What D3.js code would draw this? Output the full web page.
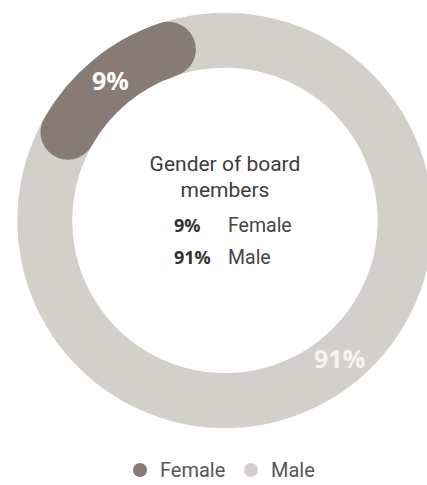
<!DOCTYPE html>
<html>
<head>
<meta charset="utf-8">
<script src="https://cdn.jsdelivr.net/npm/d3@7"></script>
<style>
  html, body { margin: 0; padding: 0; background: #ffffff; overflow: hidden; }
  svg { display: block; }
</style>
</head>
<body>
<div id="chart"></div>
<script>
// ---- data ----
const categories = ["Female", "Male"];
const values = [9, 91];
const valueLabels = ["9%", "91%"];
const title = ["Gender of board", "members"];

// ---- style / layout ----
const W = 427, H = 485;
const cx = 225, cy = 220.4;
const outerR = 207.7, innerR = 152.7;
const colors = ["#877b74", "#d3d0cc"];
const startDeg = -55.7;          // where the first slice starts (from 12 o'clock)
const capExtend = 0.24;          // visual extension (rad) of the rounded highlight caps

const svg = d3.select("#chart").append("svg")
  .attr("width", W).attr("height", H);

const color = d3.scaleOrdinal().domain(categories).range(colors);

const data = categories.map((c, i) => ({ name: c, value: values[i], label: valueLabels[i] }));

const pie = d3.pie()
  .value(d => d.value)
  .sort(null)
  .startAngle(startDeg * Math.PI / 180)
  .endAngle(startDeg * Math.PI / 180 + 2 * Math.PI);

const arcs = pie(data);

const arc = d3.arc().innerRadius(innerR).outerRadius(outerR);
const roundArc = d3.arc().innerRadius(innerR).outerRadius(outerR)
  .cornerRadius((outerR - innerR) / 2);

const g = svg.append("g").attr("transform", `translate(${cx},${cy})`);

// male ring (large slice) first
g.selectAll("path.slice")
  .data(arcs.filter(a => a.data.name !== "Female"))
  .join("path")
  .attr("class", "slice")
  .attr("d", arc)
  .attr("fill", d => color(d.data.name));

// highlighted female slice with rounded caps on top
g.selectAll("path.hl")
  .data(arcs.filter(a => a.data.name === "Female"))
  .join("path")
  .attr("class", "hl")
  .attr("d", d => roundArc({ startAngle: d.startAngle - capExtend, endAngle: d.endAngle + capExtend }))
  .attr("fill", d => color(d.data.name));

// labels on ring
const labelArc = d3.arc().innerRadius((innerR + outerR) / 2).outerRadius((innerR + outerR) / 2);
g.selectAll("text.ringlabel")
  .data(arcs)
  .join("text")
  .attr("class", "ringlabel")
  .attr("transform", d => `translate(${labelArc.centroid(d)})`)
  .attr("text-anchor", "middle")
  .attr("dy", "0.36em")
  .attr("font-family", "'Open Sans', sans-serif")
  .attr("font-weight", 700)
  .attr("font-size", 25)
  .attr("fill", (d, i) => i === 0 ? "#ffffff" : "#f4f3f1")
  .text(d => d.data.label);

// centre title
svg.append("g").selectAll("text.title")
  .data(title)
  .join("text")
  .attr("x", cx)
  .attr("y", (d, i) => 171 + i * 26)
  .attr("text-anchor", "middle")
  .attr("font-family", "Roboto, sans-serif")
  .attr("font-size", 21)
  .attr("fill", "#3c3c3c")
  .text(d => d);

// centre breakdown
const rows = svg.append("g").selectAll("g.row")
  .data(data)
  .join("g")
  .attr("transform", (d, i) => `translate(0,${232 + i * 32})`);

rows.append("text")
  .attr("x", 174)
  .attr("font-family", "'Open Sans', sans-serif")
  .attr("font-weight", 700)
  .attr("font-size", 18)
  .attr("fill", "#333333")
  .text(d => d.label);

rows.append("text")
  .attr("x", 228)
  .attr("font-family", "Roboto, sans-serif")
  .attr("font-size", 19.5)
  .attr("fill", "#454545")
  .text(d => d.name);

// legend
const legendItems = [{ x: 140 }, { x: 251 }];
const leg = svg.append("g").selectAll("g.leg")
  .data(data)
  .join("g")
  .attr("transform", (d, i) => `translate(${legendItems[i].x},470)`);

leg.append("circle")
  .attr("r", 7)
  .attr("fill", d => color(d.name));

leg.append("text")
  .attr("x", 20)
  .attr("y", 6.5)
  .attr("font-family", "Roboto, sans-serif")
  .attr("font-size", 20)
  .attr("fill", "#555555")
  .text(d => d.name);
</script>
</body>
</html>
